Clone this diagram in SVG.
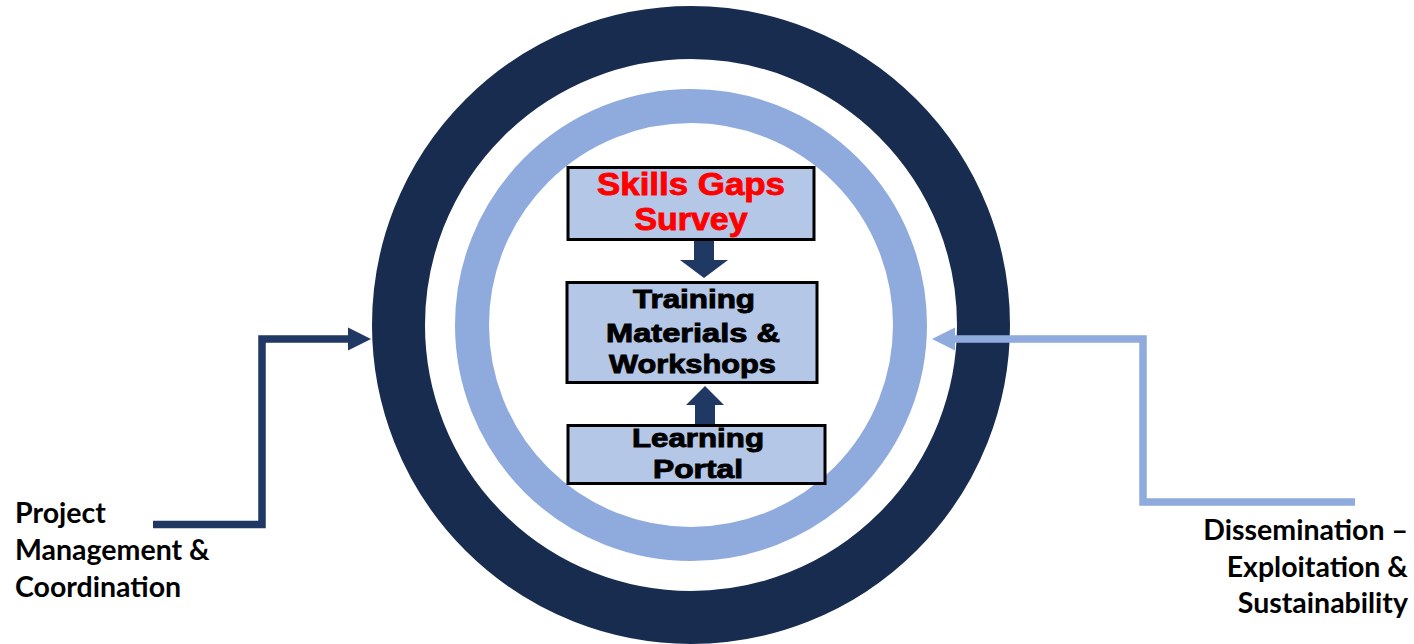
<svg xmlns="http://www.w3.org/2000/svg" width="1414" height="644" viewBox="0 0 1414 644">
<style>
.box{fill:#B4C7E7;stroke:#000;stroke-width:3}
.bt{font-family:"Liberation Sans",Arial,sans-serif;font-weight:bold;text-anchor:middle;stroke-width:0.9}
.lbl{font-family:Lato,"Noto Sans",sans-serif;font-weight:bold;font-size:28.5px;fill:#000}
.blk{fill:#1F3864}
</style>
<rect width="1414" height="644" fill="#fff"/>
<g id="rings">
<circle cx="691" cy="325" r="292.5" fill="none" stroke="#182C50" stroke-width="53"/>
<circle cx="691" cy="325" r="219" fill="none" stroke="#8FAADC" stroke-width="34"/>
</g>
<g id="connectors">
<polyline points="153,524.5 262,524.5 262,339 350,339" fill="none" stroke="#1F3864" stroke-width="7.5"/>
<polygon points="348,327.5 371,339 348,350.5" fill="#1F3864"/>
<polyline points="1355,502 1143,502 1143,339 953,339" fill="none" stroke="#8FAADC" stroke-width="7.5"/>
<polygon points="955,327.5 932,339 955,350.5" fill="#8FAADC"/>
<polygon class="blk" points="694,241 714,241 714,260 728,260 704,278 680,260 694,260"/>
<polygon class="blk" points="695,425 715,425 715,405 724,405 705,386 686,405 695,405"/>
</g>
<g id="survey">
<rect class="box" x="568" y="167.5" width="246" height="72"/>
<text class="bt" x="691" y="195" font-size="31" fill="#FF0000" stroke="#FF0000" textLength="188" lengthAdjust="spacingAndGlyphs">Skills Gaps</text>
<text class="bt" x="691" y="230" font-size="31" fill="#FF0000" stroke="#FF0000" textLength="113" lengthAdjust="spacingAndGlyphs">Survey</text>
</g>
<g id="training">
<rect class="box" x="567" y="282.5" width="250" height="100"/>
<text class="bt" x="694" y="308" font-size="25.5" fill="#000" stroke="#000" textLength="122" lengthAdjust="spacingAndGlyphs">Training</text>
<text class="bt" x="693" y="342" font-size="26" fill="#000" stroke="#000" textLength="174" lengthAdjust="spacingAndGlyphs">Materials &amp;</text>
<text class="bt" x="692.5" y="373" font-size="26" fill="#000" stroke="#000" textLength="167" lengthAdjust="spacingAndGlyphs">Workshops</text>
</g>
<g id="portal">
<rect class="box" x="568" y="425.5" width="257" height="58"/>
<text class="bt" x="698" y="447" font-size="25" fill="#000" stroke="#000" textLength="132" lengthAdjust="spacingAndGlyphs">Learning</text>
<text class="bt" x="698" y="478" font-size="25" fill="#000" stroke="#000" textLength="90" lengthAdjust="spacingAndGlyphs">Portal</text>
</g>
<g id="pm-label">
<text class="lbl" x="15" y="523">Project</text>
<text class="lbl" x="15" y="560">Management &amp;</text>
<text class="lbl" x="15" y="597">Coordination</text>
</g>
<g id="dissem-label">
<text class="lbl" x="1408" y="540" text-anchor="end">Dissemination –</text>
<text class="lbl" x="1408" y="577" text-anchor="end">Exploitation &amp;</text>
<text class="lbl" x="1408" y="613" text-anchor="end">Sustainability</text>
</g>
</svg>
